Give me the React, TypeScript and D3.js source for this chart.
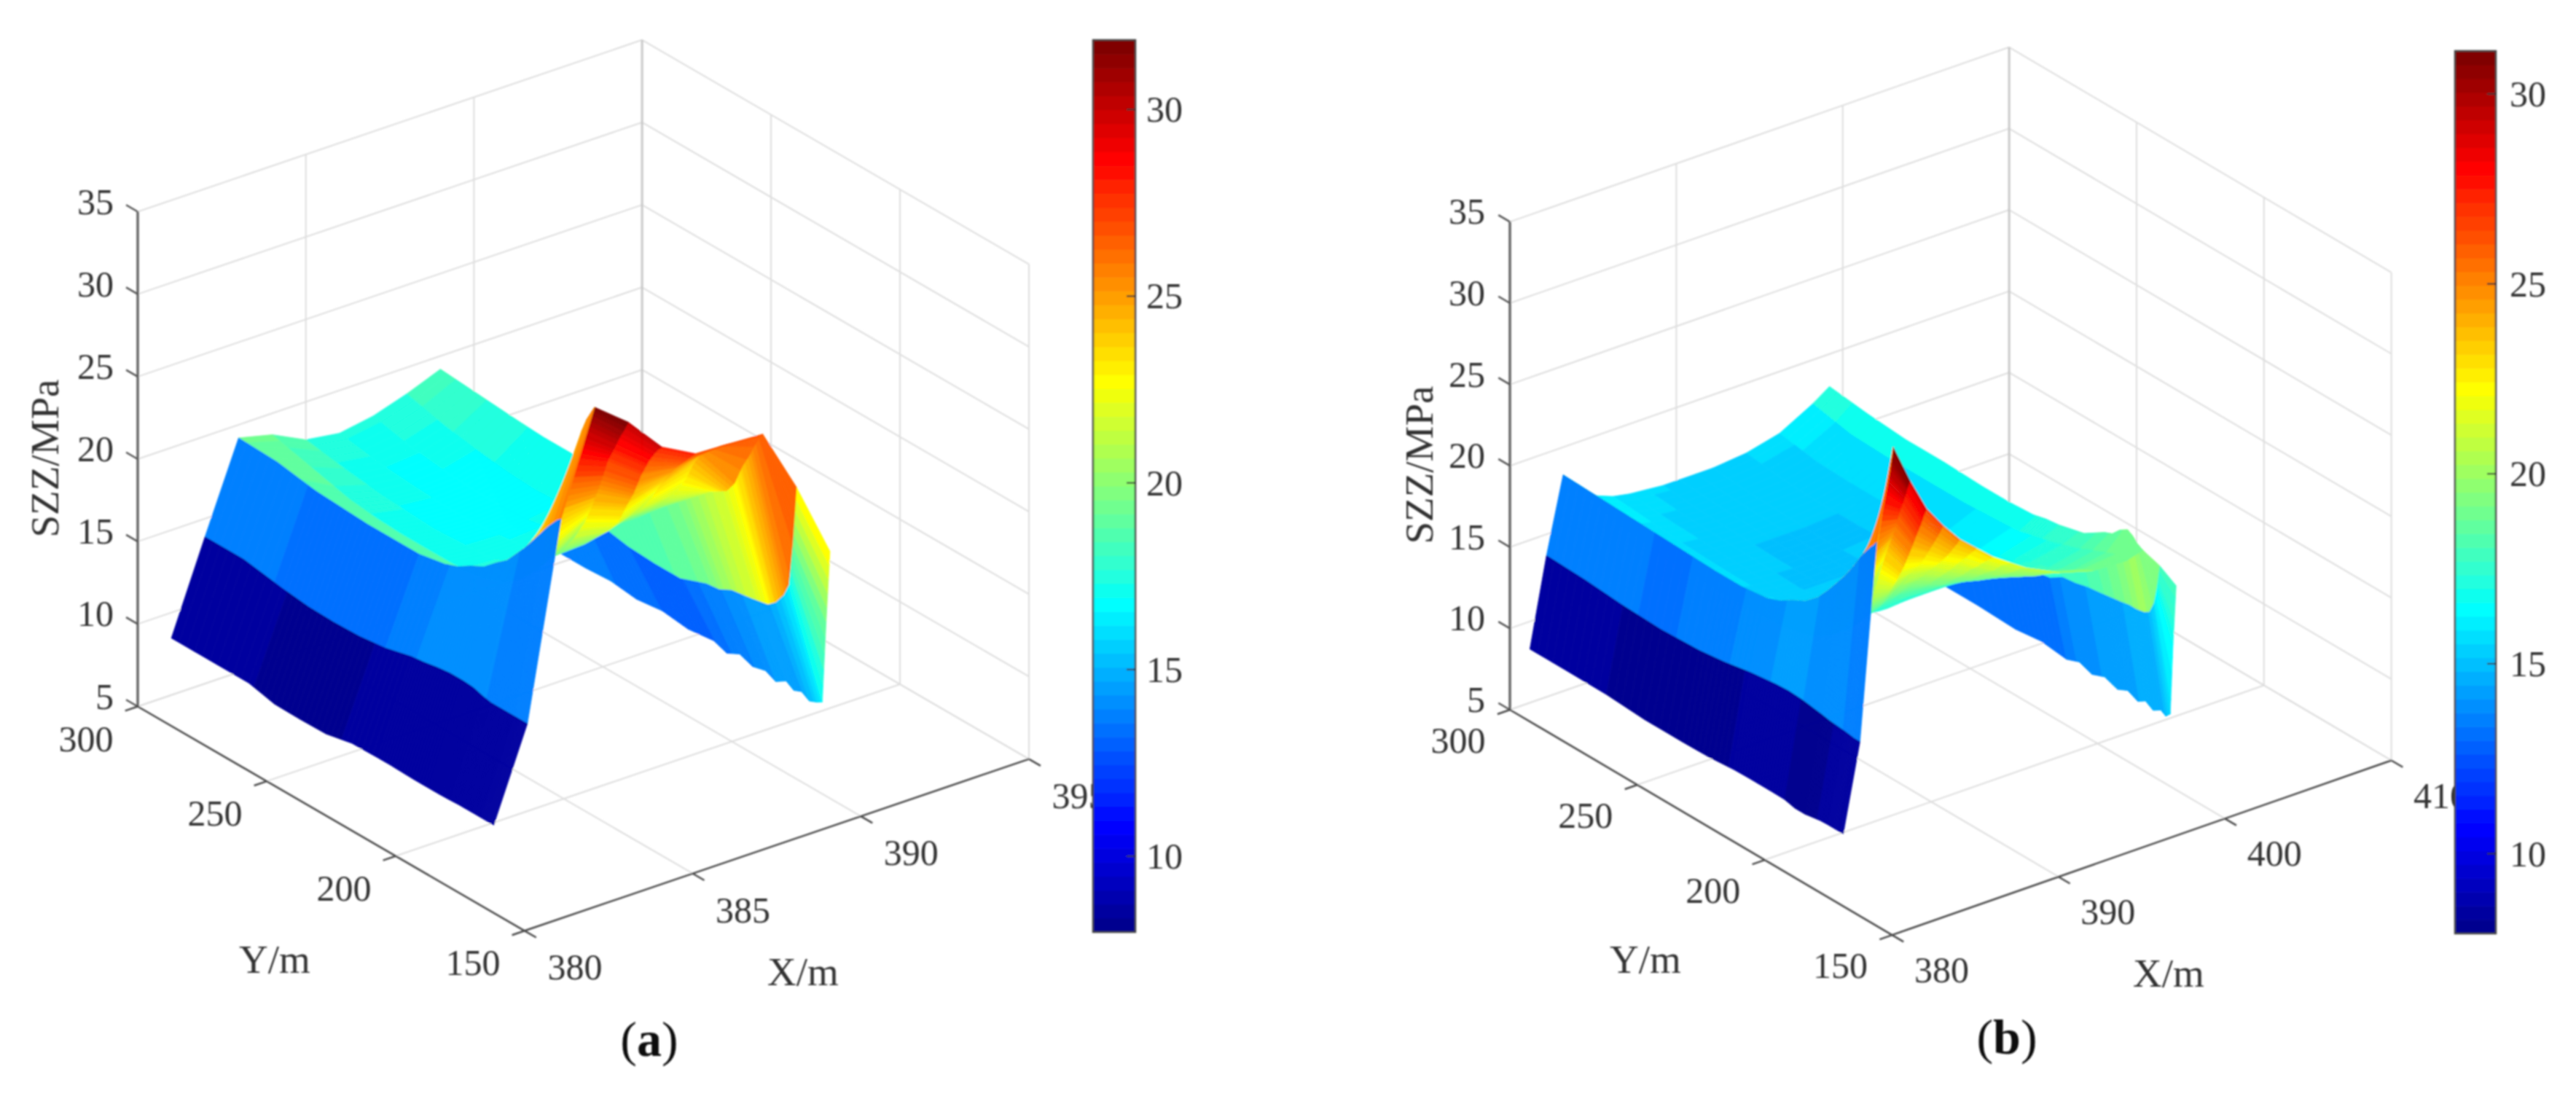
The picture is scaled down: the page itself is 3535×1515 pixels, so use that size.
import React, { useMemo } from "react";
import * as d3 from "d3";

// ---------- shared tick data ----------
const zTicks = [5, 10, 15, 20, 25, 30, 35];
const yTicks = [150, 200, 250, 300];
const barTicks = [10, 15, 20, 25, 30];
const aXTicks = [380, 385, 390, 395];
const bXTicks = [380, 390, 400, 410];

// ---------- panel (a) surface: one list per X node, values along aY ----------
const aX = [381, 382, 383, 384, 385, 386, 387, 388, 389, 390, 391];
const aY = [175, 176.5, 178, 180, 183, 186, 189, 192, 196, 200, 205, 210, 215, 220, 230, 240, 250, 260, 270, 285, 300];
const aZ = [
  [8.45, 8.45, 8.45, 8.45, 8.45, 8.45, 8.45, 8.42, 8.4, 8.4, 8.4, 8.42, 8.45, 8.45, 8.42, 8.08, 8.05, 8.08, 8.45, 8.45, 8.45],
  [13.9, 13.9, 13.9, 13.9, 13.9, 13.9, 13.9, 14, 14.2, 14.25, 14.25, 14.15, 14, 13.9, 13.5, 13.3, 13.25, 13.3, 13.5, 13.9, 13.9],
  [25.6, 25.4, 25.1, 24.7, 24, 23.3, 22.6, 22, 21.2, 20.7, 20, 19.6, 19.1, 18.8, 18.5, 18.5, 18.5, 18.6, 18.7, 19.1, 19.2],
  [31.7, 31.2, 30.7, 29.8, 27.9, 25.7, 23.5, 21.3, 20.1, 19.3, 18.5, 18, 17.6, 17.4, 17.2, 17.2, 17.2, 17.3, 17.5, 18.1, 18.7],
  [30.1, 29.5, 29, 28.2, 27, 25.3, 23.8, 22.5, 21.2, 20.2, 19.2, 18.4, 17.9, 17.4, 17, 16.9, 16.8, 16.9, 17, 17.3, 17.7],
  [27.9, 27.6, 27.2, 26.6, 25.5, 24.1, 23, 21.8, 20.9, 20.2, 19.3, 18.6, 18, 17.5, 17, 16.8, 16.7, 16.7, 16.8, 17, 17.4],
  [26.8, 26.5, 26.2, 25.8, 25.2, 24.4, 23.6, 22.6, 21.6, 20.8, 20, 19.1, 18.4, 17.9, 17.2, 16.9, 16.8, 16.8, 16.9, 17.2, 17.75],
  [26.7, 26.5, 26.3, 26, 25.6, 25.1, 24.2, 23, 21.8, 20.9, 20, 19.1, 18.4, 17.9, 17.4, 17.2, 17.1, 17.2, 17.4, 17.8, 18.4],
  [26.6, 26.2, 25.7, 24.9, 23.9, 22.6, 21.9, 21.6, 21.2, 20.6, 19.9, 19.3, 19, 18.8, 18.7, 18.7, 18.7, 18.7, 18.8, 19, 19.2],
  [22.7, 19.1, 16.5, 15.7, 15, 14.6, 14.5, 14.4, 14.3, 14.2, 13.8, 13.7, 13.4, 13.1, 13.1, 13.2, 13.5, 13.6, 13.6, 13.7, 13.7],
  [18.1, 13.7, 8.7, 8.5, 8.3, 8.6, 8.4, 8.7, 8.3, 8.6, 8.4, 8.7, 8.3, 8.6, 8.4, 8.6, 8.4, 8.6, 8.5, 8.5, 8.5],
];

// ---------- panel (b) surface ----------
const bX = [381.2, 382.2, 383.2, 384.2, 385.2, 386.2, 387.2, 388.2, 389.2, 390.2, 391.2, 392.2, 394.2, 396.2, 398.2, 399.2, 400.2, 401.2];
const bY = [177, 178.2, 179.3, 181, 183, 186, 189, 192, 196, 200, 205, 210, 215, 220, 230, 240, 255, 270, 285, 300];
const bZ = [
  [8.3, 8.3, 8.3, 8.3, 8.3, 8.28, 8.2, 8.12, 8.12, 8.28, 8.3, 8.3, 8.3, 8.28, 8.15, 8.12, 8.12, 8.28, 8.3, 8.3],
  [13.6, 13.6, 13.6, 13.65, 13.7, 13.75, 13.8, 13.9, 14, 14.1, 14.15, 14.1, 14, 13.9, 13.6, 13.4, 13.3, 13.4, 13.6, 13.7],
  [25.5, 25.2, 25, 24.6, 24.1, 23.2, 22.4, 21.7, 20.8, 20, 19.3, 18.9, 18.4, 18.1, 17.9, 17.9, 18, 18.1, 18.2, 18.3],
  [31, 29.6, 28.5, 26.9, 24.7, 22.5, 20.8, 19.5, 18.2, 17.4, 16.8, 16.4, 16.2, 16, 15.9, 15.8, 15.9, 16, 16.3, 17.2],
  [28.6, 27.9, 27.2, 26.3, 25, 23.5, 21.8, 19.9, 18.4, 17.4, 16.7, 16.2, 16, 15.8, 15.6, 15.5, 15.6, 15.7, 15.9, 16.3],
  [26.5, 25.9, 25.3, 24.5, 23.5, 22.1, 20.9, 19.9, 18.7, 17.8, 17, 16.4, 16, 15.8, 15.5, 15.4, 15.4, 15.5, 15.7, 15.9],
  [25.1, 24.6, 24.2, 23.6, 22.9, 21.9, 21.1, 20.3, 19.2, 18.2, 17.2, 16.6, 16.1, 15.8, 15.4, 15.2, 15.3, 15.4, 15.5, 15.7],
  [23.9, 23.5, 23.2, 22.7, 22.2, 21.5, 20.9, 20.2, 19.3, 18.4, 17.1, 16.4, 16, 15.7, 15.3, 15.1, 15.2, 15.3, 15.4, 15.6],
  [23, 22.7, 22.5, 22.1, 21.7, 21, 20.4, 19.8, 19, 18.3, 17.2, 16.4, 16, 15.7, 15.3, 15.1, 15.1, 15.2, 15.3, 15.5],
  [22.1, 21.9, 21.7, 21.4, 21, 20.5, 19.9, 19.4, 18.7, 18.1, 17.2, 16.5, 16, 15.7, 15.3, 15.1, 15.1, 15.2, 15.3, 15.5],
  [21.4, 21.2, 21.1, 20.8, 20.4, 20, 19.5, 19, 18.5, 18, 17.2, 16.6, 16.1, 15.7, 15.3, 15.1, 15.1, 15.2, 15.3, 15.5],
  [20.7, 20.6, 20.5, 20.2, 19.9, 19.5, 19.1, 18.7, 18.2, 17.8, 17.2, 16.7, 16.2, 15.8, 15.4, 15.2, 15.1, 15.2, 15.3, 15.5],
  [19.7, 19.6, 19.5, 19.3, 19.1, 18.7, 18.4, 18.1, 17.8, 17.5, 17.1, 16.7, 16.3, 16, 15.6, 15.4, 15.3, 15.3, 15.4, 15.7],
  [19.1, 19, 18.9, 18.8, 18.6, 18.3, 18.1, 17.8, 17.6, 17.4, 17.1, 16.8, 16.5, 16.3, 16, 15.8, 15.7, 15.7, 15.8, 16.2],
  [19, 19, 19, 19, 18.9, 18.7, 18.5, 18.3, 18, 17.8, 17.5, 17.3, 17.1, 16.9, 16.8, 16.7, 16.7, 16.7, 16.8, 17.3],
  [19.3, 19.4, 19.5, 19.8, 20, 19.7, 19.2, 19, 18.6, 18.2, 18, 17.8, 17.7, 17.5, 17.4, 17.4, 17.5, 17.5, 17.7, 18],
  [18, 16.5, 15.5, 14.8, 14.6, 14.5, 14.5, 14.4, 14.3, 14.2, 14.1, 13.9, 13.8, 13.3, 13, 13, 13, 13, 13.1, 13.2],
  [16.4, 12.7, 8.3, 8, 8.2, 7.9, 8.2, 7.9, 8.2, 7.9, 8.2, 7.9, 8.2, 7.9, 8.1, 7.9, 8, 8, 8, 8.2],
];

// ---------- layout ----------
type Pt = [number, number];
interface Panel {
  name: string;
  X: number[]; Y: number[]; Z: number[][];
  xTicks: number[];
  F: Pt; R: Pt; L: Pt; zh: number;
  cRange: [number, number];
  bar: { x0: number; x1: number; yTop: number; yBot: number; labelX: number };
  zLabelX: number;
  yOff: Pt; xOff: Pt;
  yTitle: Pt; xTitle: Pt; zTitle: Pt; cap: Pt;
}

const panels: Panel[] = [
  {
    name: "a", X: aX, Y: aY, Z: aZ, xTicks: aXTicks,
    F: [719.9, 1277.3], R: [1412, 1041.6], L: [189, 969.5], zh: 679,
    cRange: [7.97, 31.86],
    bar: { x0: 1500, x1: 1558, yTop: 55, yBot: 1279, labelX: 1573 },
    zLabelX: 156, yOff: [-71, 44], xOff: [69, 50],
    yTitle: [377, 1316], xTitle: [1102, 1333], zTitle: [61, 629], cap: [891, 1426],
  },
  {
    name: "b", X: bX, Y: bY, Z: bZ, xTicks: bXTicks,
    F: [2596.5, 1283.1], R: [3281.6, 1043.5], L: [2072, 974], zh: 669.6,
    cRange: [7.9, 31.13],
    bar: { x0: 3369, x1: 3425, yTop: 70, yBot: 1281, labelX: 3444 },
    zLabelX: 2038, yOff: [-71, 42], xOff: [68, 48],
    yTitle: [2258, 1316], xTitle: [2976, 1335], zTitle: [1947, 638], cap: [2754, 1423],
  },
];

// MATLAB jet(64)
const clip = (v: number) => Math.max(0, Math.min(1, v));
const jet64 = d3.range(64).map((i) => {
  const t = (i + 1) / 64;
  const r = clip(Math.min(4 * t - 1.5, -4 * t + 4.5));
  const g = clip(Math.min(4 * t - 0.5, -4 * t + 3.5));
  const b = clip(Math.min(4 * t + 0.5, -4 * t + 2.5));
  return d3.rgb(r * 255, g * 255, b * 255).formatHex();
});

const FONT = "'Liberation Serif', 'Times New Roman', serif";
const TEXT = "#333";
const GRID = "#dedede";

function PanelView({ p }: { p: Panel }) {
  const content = useMemo(() => {
    const xDom = d3.extent(p.xTicks) as [number, number];
    const sx = d3.scaleLinear().domain(xDom).range([0, 1]);
    const sy = d3.scaleLinear().domain([150, 300]).range([0, 1]);
    const sz = d3.scaleLinear().domain([5, 35]).range([0, 1]);
    const proj = (x: number, y: number, z: number): Pt => {
      const u = sx(x), v = sy(y), w = sz(z);
      return [
        p.F[0] + u * (p.R[0] - p.F[0]) + v * (p.L[0] - p.F[0]),
        p.F[1] + u * (p.R[1] - p.F[1]) + v * (p.L[1] - p.F[1]) - w * p.zh,
      ];
    };
    const x0 = xDom[0], x1 = xDom[1];
    const lineGen = d3.line<Pt>();
    const seg = (a: Pt, b: Pt) => lineGen([a, b]) as string;

    const color = d3.scaleQuantize<string>().domain(p.cRange).range(jet64);

    // grid
    const grid: { d: string; c: string; w: number }[] = [];
    zTicks.forEach((z) => {
      grid.push({ d: seg(proj(x0, 300, z), proj(x1, 300, z)), c: GRID, w: 2 });
      grid.push({ d: seg(proj(x1, 300, z), proj(x1, 150, z)), c: GRID, w: 2 });
    });
    p.xTicks.forEach((x) => {
      grid.push({ d: seg(proj(x, 150, 5), proj(x, 300, 5)), c: GRID, w: 2 });
      if (x > x0) grid.push({ d: seg(proj(x, 300, 5), proj(x, 300, 35)), c: x === x1 ? "#c8c8c8" : GRID, w: x === x1 ? 3 : 2 });
    });
    yTicks.forEach((y) => {
      grid.push({ d: seg(proj(x0, y, 5), proj(x1, y, 5)), c: GRID, w: 2 });
      if (y < 300) grid.push({ d: seg(proj(x1, y, 5), proj(x1, y, 35)), c: GRID, w: 2 });
    });

    // surface, painted from the far corner to the near one
    const facets: { d: string; c: string }[] = [];
    const n = 5;
    for (let i = p.X.length - 2; i >= 0; i--) {
      for (let j = p.Y.length - 2; j >= 0; j--) {
        for (let k = n - 1; k >= 0; k--) {
          const t0 = k / n, t1 = (k + 1) / n;
          const y0 = p.Y[j] + (p.Y[j + 1] - p.Y[j]) * t0;
          const y1 = p.Y[j] + (p.Y[j + 1] - p.Y[j]) * t1;
          const za0 = p.Z[i][j] + (p.Z[i][j + 1] - p.Z[i][j]) * t0;
          const za1 = p.Z[i][j] + (p.Z[i][j + 1] - p.Z[i][j]) * t1;
          const zb0 = p.Z[i + 1][j] + (p.Z[i + 1][j + 1] - p.Z[i + 1][j]) * t0;
          const zb1 = p.Z[i + 1][j] + (p.Z[i + 1][j + 1] - p.Z[i + 1][j]) * t1;
          const poly = [proj(p.X[i], y0, za0), proj(p.X[i + 1], y0, zb0), proj(p.X[i + 1], y1, zb1), proj(p.X[i], y1, za1)];
          facets.push({ d: (lineGen(poly) as string) + "Z", c: color(za0) });
        }
      }
    }

    // axes
    const dxTick = (x1 - x0) * 0.025;
    const dyTick = 150 * 0.03;
    const axes: string[] = [];
    axes.push(seg(proj(x0, 150, 5), proj(x0, 300, 5)));
    axes.push(seg(proj(x0, 150, 5), proj(x1, 150, 5)));
    yTicks.forEach((y) => axes.push(seg(proj(x0, y, 5), proj(x0 - dxTick, y, 5))));
    p.xTicks.forEach((x) => axes.push(seg(proj(x, 150, 5), proj(x, 150 - dyTick, 5))));
    const zAxis = seg(proj(x0, 300, 5), proj(x0, 300, 35));
    const zTickPaths = zTicks.map((z) => seg(proj(x0, 300, z), proj(x0, 300 + dyTick, z)));

    // colour bar
    const { x0: bx0, x1: bx1, yTop, yBot, labelX } = p.bar;
    const barY = d3.scaleLinear().domain(p.cRange).range([yBot, yTop]);
    const bands = jet64.map((c, i) => {
      const [lo, hi] = color.invertExtent(c);
      return { c, y: barY(hi), h: barY(lo) - barY(hi) + 0.6, i };
    });

    return (
      <>
        {grid.map((g, i) => <path key={i} d={g.d} stroke={g.c} strokeWidth={g.w} fill="none" />)}
        <path d={zAxis} stroke="#666" strokeWidth={3.5} fill="none" />
        {zTickPaths.map((d, i) => <path key={i} d={d} stroke="#555" strokeWidth={2.5} fill="none" />)}
        {axes.map((d, i) => <path key={i} d={d} stroke="#4a4a4a" strokeWidth={2.5} fill="none" />)}
        {facets.map((f, i) => <path key={i} d={f.d} fill={f.c} stroke={f.c} strokeWidth={0.8} strokeLinejoin="round" />)}
        {zTicks.map((z) => {
          const q = proj(x0, 300, z);
          return <text key={z} x={p.zLabelX} y={q[1] - 14} textAnchor="end" dominantBaseline="central" fontFamily={FONT} fontSize={50} fill={TEXT}>{z}</text>;
        })}
        {yTicks.map((y) => {
          const q = proj(x0, y, 5);
          return <text key={y} x={q[0] + p.yOff[0]} y={q[1] + p.yOff[1]} textAnchor="middle" dominantBaseline="central" fontFamily={FONT} fontSize={50} fill={TEXT}>{y}</text>;
        })}
        {p.xTicks.map((x) => {
          const q = proj(x, 150, 5);
          return <text key={x} x={q[0] + p.xOff[0]} y={q[1] + p.xOff[1]} textAnchor="middle" dominantBaseline="central" fontFamily={FONT} fontSize={50} fill={TEXT}>{x}</text>;
        })}
        <text x={p.yTitle[0]} y={p.yTitle[1]} textAnchor="middle" dominantBaseline="central" fontFamily={FONT} fontSize={55} fill={TEXT}>Y/m</text>
        <text x={p.xTitle[0]} y={p.xTitle[1]} textAnchor="middle" dominantBaseline="central" fontFamily={FONT} fontSize={55} fill={TEXT}>X/m</text>
        <text transform={`translate(${p.zTitle[0]},${p.zTitle[1]}) rotate(-90)`} textAnchor="middle" dominantBaseline="central" fontFamily={FONT} fontSize={55} fill={TEXT}>SZZ/MPa</text>
        <text x={p.cap[0]} y={p.cap[1]} textAnchor="middle" dominantBaseline="central" fontFamily={FONT} fontSize={68} fill="#111">(<tspan fontWeight="bold">{p.name}</tspan>)</text>
        {bands.map((b) => <rect key={b.i} x={bx0} y={b.y} width={bx1 - bx0} height={b.h} fill={b.c} />)}
        <rect x={bx0} y={yTop} width={bx1 - bx0} height={yBot - yTop} fill="none" stroke="#444" strokeWidth={2.5} />
        {barTicks.map((t) => (
          <g key={t}>
            <line x1={bx1 - 12} x2={bx1} y1={barY(t)} y2={barY(t)} stroke="#333" strokeWidth={2} />
            <text x={labelX} y={barY(t)} dominantBaseline="central" fontFamily={FONT} fontSize={50} fill={TEXT}>{t}</text>
          </g>
        ))}
      </>
    );
  }, [p]);
  return <g>{content}</g>;
}

export default function App() {
  return (
    <svg width={3535} height={1515} viewBox="0 0 3535 1515" style={{ position: "absolute", left: 0, top: 0, background: "#fff" }}>
      <defs>
        <filter id="soft" x="0" y="0" width="3535" height="1515" filterUnits="userSpaceOnUse">
          <feGaussianBlur stdDeviation="0.9" />
        </filter>
      </defs>
      <rect width={3535} height={1515} fill="#fff" />
      <g filter="url(#soft)">
        {panels.map((p) => <PanelView key={p.name} p={p} />)}
      </g>
    </svg>
  );
}
